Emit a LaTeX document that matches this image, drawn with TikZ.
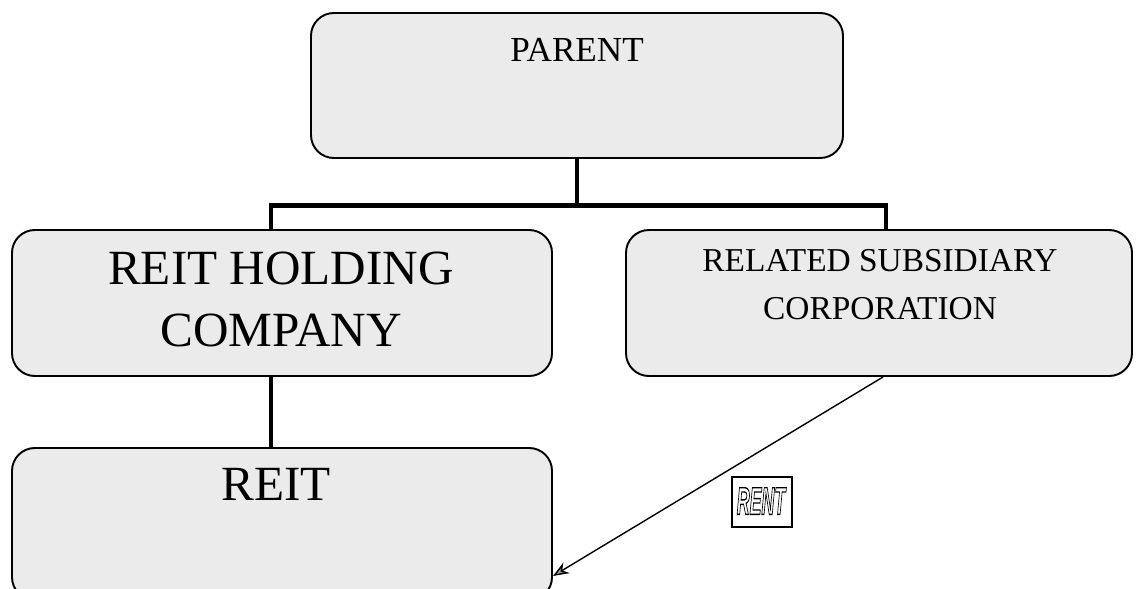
\documentclass[tikz,border=0pt]{standalone}
\usepackage{fontspec}
\setmainfont{Liberation Serif}
\newfontfamily\rentfont{Liberation Sans}
\usetikzlibrary{arrows.meta}

\tikzset{
  orgbox/.style={draw, line width=1.1pt, rounded corners=13pt, fill=black!8, inner sep=0pt},
  orgtext/.style={inner sep=0pt, align=center},
  tree/.style={line width=2.6pt},
}

\begin{document}
\begin{tikzpicture}
  [x=0.02cm,y=-0.02cm]

  \def\u{0.02cm}
  \useasboundingbox (0,0) rectangle (1138,588);
  \clip (0,0) rectangle (1138,588);

  % boxes
  \node[orgbox, minimum width=532*\u, minimum height=145*\u] (parent) at (577,85.5) {};
  \node[orgtext, font=\fontsize{20}{24}\selectfont] (parentlbl) at (577,50) {PARENT};

  \node[orgbox, minimum width=540*\u, minimum height=146*\u] (holding) at (282,303) {};
  \node[orgtext, font=\fontsize{28}{35.8}\selectfont] (holdinglbl) at (281,299.5) {REIT HOLDING\\COMPANY};

  \node[orgbox, minimum width=506*\u, minimum height=146*\u] (related) at (879,303) {};
  \node[orgtext, font=\fontsize{19}{27.3}\selectfont] (relatedlbl) at (880,285) {RELATED SUBSIDIARY\\CORPORATION};

  \node[orgbox, minimum width=540*\u, minimum height=152*\u] (reit) at (282,524) {};
  \node[orgtext, font=\fontsize{28}{34}\selectfont] (reitlbl) at (276,484) {REIT};

  % tree lines
  \coordinate (busl) at (271,205.5);
  \coordinate (busr) at (886,205.5);
  \draw[tree] (parent.south) -- (parent.south |- busl);
  \draw[tree] (busl |- holding.north) -- (busl) -- (busr) -- (busr |- related.north);
  \draw[tree] (busl |- holding.south) -- (busl |- reit.north);

  % rent
  \coordinate (rentfrom) at (883,377);
  \draw[line width=0.8pt, -{Stealth[length=9pt, width=7pt, fill=black!40]}] (rentfrom) -- (reit.east |- 0,576);

  \node[draw, fill=white, line width=0.6pt, minimum width=60*\u, minimum height=50*\u] (rent) at (762,502) {};
  \node[orgtext, xscale=0.46, font=\rentfont\bfseries\itshape\fontsize{22}{26}\selectfont] (rentlbl) at (761,501)
    {\special{pdf:literal direct 1 Tr 0.8 w}RENT\special{pdf:literal direct 0 Tr}};
\end{tikzpicture}
\end{document}
